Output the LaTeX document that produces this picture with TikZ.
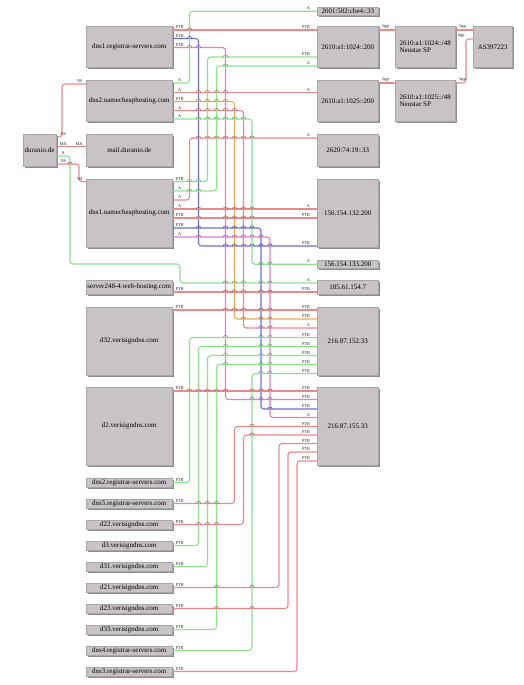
\documentclass[tikz,border=0pt]{standalone}
\usepackage{fontspec}
\setmainfont{Liberation Serif}
\usetikzlibrary{shadows}

\definecolor{boxfill}{HTML}{C7C3C7}
\definecolor{boxline}{HTML}{A9A5A9}
\definecolor{boxshade}{HTML}{8E8B8E}
\definecolor{edgered}{HTML}{E8898B}
\definecolor{edgegreen}{HTML}{8FE08F}
\definecolor{edgeblue}{HTML}{6F6FD0}
\definecolor{edgepink}{HTML}{E07DD3}
\definecolor{edgeorange}{HTML}{E8AC50}

% little bumps where a horizontal run jumps a vertical one
\newcommand{\hops}[3]{%
  \foreach \hx in {#3}
    \draw[#1!75!black, line width=0.6pt]
      (\hx-2.2,#2) .. controls (\hx-2.2,#2-2.8) and (\hx+2.2,#2-2.8) .. (\hx+2.2,#2);}

\begin{document}
\begin{tikzpicture}[
  x=1pt, y=-1pt,
  hostbox/.style={rectangle, draw=boxline, line width=0.5pt, fill=boxfill,
                  inner sep=0pt, font=\fontsize{7}{7.4}\selectfont,
                  drop shadow={shadow xshift=1.5pt, shadow yshift=-1.5pt,
                               fill=boxshade, opacity=1}},
  leftbox/.style={hostbox, minimum width=86.5pt},
  smallbox/.style={hostbox, minimum width=86.5pt, minimum height=9pt},
  ipbox/.style={hostbox, minimum width=61.5pt},
  netbox/.style={hostbox, minimum width=60.5pt, minimum height=41.5pt, align=left},
  edge/.style={line width=1.1pt, rounded corners=3pt},
  redge/.style={edge, draw=edgered},
  gedge/.style={edge, draw=edgegreen},
  bedge/.style={edge, draw=edgeblue},
  pedge/.style={edge, draw=edgepink},
  oedge/.style={edge, draw=edgeorange},
  lbl/.style={font=\fontsize{4.3}{4.3}\selectfont, inner sep=0.2pt, text=black!85},
  src/.style={lbl, anchor=south, xshift=7pt, yshift=0.6pt},
  dst/.style={lbl, anchor=south east, xshift=-6pt, yshift=0.6pt},
  dstnear/.style={lbl, anchor=south east, xshift=-2.5pt, yshift=0.6pt},
]
\fill[white] (0,0) rectangle (523,685);
\useasboundingbox (0,0) rectangle (523,685);

%% ---- zone ----
\node[hostbox, minimum width=33pt, minimum height=32.5pt] (duranio) at (39.5,150.25) {duranio.de};

%% ---- left column ----
\node[leftbox, minimum height=41.5pt] (regone)     at (129.25,46.75)  {dns1.registrar-servers.com};
\node[leftbox, minimum height=41.5pt] (nctwo)      at (129.25,100.75) {dns2.namecheaphosting.com};
\node[leftbox, minimum height=32.5pt] (mailhost)   at (129.25,150.25) {mail.duranio.de};
\node[leftbox, minimum height=68.5pt] (ncone)      at (129.25,213.25) {dns1.namecheaphosting.com};
\node[leftbox, minimum height=14.5pt] (srvweb)     at (129.25,287.25) {server248-4.web-hosting.com};
\node[leftbox, minimum height=68.5pt] (dthirtytwo) at (129.25,341.25) {d32.verisigndns.com};
\node[leftbox, minimum height=78.5pt] (dtwo)       at (129.25,426.25) {d2.verisigndns.com};

\node[smallbox] (regtwo)       at (129.25,482.5) {dns2.registrar-servers.com};
\node[smallbox] (regfive)      at (129.25,503.5) {dns5.registrar-servers.com};
\node[smallbox] (dtwentytwo)   at (129.25,524.5) {d22.verisigndns.com};
\node[smallbox] (dthree)       at (129.25,545.5) {d3.verisigndns.com};
\node[smallbox] (dthirtyone)   at (129.25,566.5) {d31.verisigndns.com};
\node[smallbox] (dtwentyone)   at (129.25,587.5) {d21.verisigndns.com};
\node[smallbox] (dtwentythree) at (129.25,608.5) {d23.verisigndns.com};
\node[smallbox] (dthirtythree) at (129.25,629.5) {d33.verisigndns.com};
\node[smallbox] (regfour)      at (129.25,650.5) {dns4.registrar-servers.com};
\node[smallbox] (regthree)     at (129.25,671.5) {dns3.registrar-servers.com};

%% ---- addresses ----
\node[ipbox, minimum height=8.5pt]  (v6cbe)    at (347.75,11.25)  {2001:502:cbe4::33};
\node[ipbox, minimum height=41.5pt] (v6ten24)  at (347.75,46.75)  {2610:a1:1024::200};
\node[ipbox, minimum height=41.5pt] (v6ten25)  at (347.75,100.75) {2610:a1:1025::200};
\node[ipbox, minimum height=32.5pt] (v6lumen)  at (347.75,150.25) {2620:74:19::33};
\node[ipbox, minimum height=68.5pt] (vfour132) at (347.75,213.25) {156.154.132.200};
\node[ipbox, minimum height=8.5pt]  (vfour133) at (347.75,264.25) {156.154.133.200};
\node[ipbox, minimum height=14.5pt] (vfour185) at (347.75,287.25) {185.61.154.7};
\node[ipbox, minimum height=68.5pt] (vfour152) at (347.75,341.25) {216.87.152.33};
\node[ipbox, minimum height=78.5pt] (vfour155) at (347.75,426.25) {216.87.155.33};

%% ---- prefixes and AS ----
\node[netbox] (netten24) at (425.25,46.75)  {2610:a1:1024::/48\\Neustar SP};
\node[netbox] (netten25) at (425.25,100.75) {2610:a1:1025::/48\\Neustar SP};
\node[hostbox, minimum width=39.5pt, minimum height=41.5pt] (asnum) at (492.75,46.75) {AS397223};

%% ---- zone records ----
\draw[redge] (duranio.east|-0,137) node[src]{NS} -| (62,84) -- (nctwo.west|-0,84) node[dstnear]{NS};
\draw[redge] (duranio.east|-0,146.5) node[src]{MX} -- (mailhost.west|-0,146.5) node[dstnear]{MX};
\draw[gedge] (duranio.east|-0,156) node[src]{A} -| (70,264) -| (180,283) -- (vfour185.west|-0,283) node[dst]{A};
\draw[redge] (duranio.east|-0,164) node[src]{NS} -| (79,181.5) -- (ncone.west|-0,181.5) node[dstnear]{NS};

%% ---- dns1.registrar-servers.com ----
\draw[redge] (regone.east|-0,30) node[src]{PTR} -- (v6ten24.west|-0,30) node[dst]{PTR};
\draw[bedge] (regone.east|-0,38.5) node[src]{PTR} -| (198.5,246) -- (vfour132.west|-0,246) node[dst]{PTR};
\draw[pedge] (regone.east|-0,47.5) node[src]{PTR} -| (225.5,399.5) -- (vfour155.west|-0,399.5) node[dst]{PTR};

%% ---- dns2.namecheaphosting.com ----
\draw[gedge] (nctwo.east|-0,83) node[src]{A} -| (189.5,11.25) -- (v6cbe.west) node[dst]{A};
\draw[redge] (nctwo.east|-0,92.5) node[src]{A} -- (v6ten25.west|-0,92.5) node[dst]{A};
\draw[oedge] (nctwo.east|-0,101.5) node[src]{PTR} -| (234.5,319) -- (vfour152.west|-0,319) node[dst]{PTR};
\draw[redge] (nctwo.east|-0,110.5) node[src]{A} -| (243.5,328) -- (vfour152.west|-0,328) node[dst]{A};
\draw[gedge] (nctwo.east|-0,119) node[src]{A} -| (252,264.25) -- (vfour133.west) node[dst]{A};

%% ---- dns1.namecheaphosting.com ----
\draw[gedge] (ncone.east|-0,181.5) node[src]{PTR} -| (207.5,57) -- (v6ten24.west|-0,57) node[dst]{PTR};
\draw[gedge] (ncone.east|-0,191) node[src]{A} -| (216.5,66) -- (v6ten24.west|-0,66) node[dst]{A};
\draw[redge] (ncone.east|-0,200) node[src]{A} -| (189.5,138) -- (v6lumen.west|-0,138) node[dst]{A};
\draw[redge] (ncone.east|-0,209) node[src]{A} -- (vfour132.west|-0,209) node[dst]{A};
\draw[redge] (ncone.east|-0,218) node[src]{PTR} -- (vfour132.west|-0,218) node[dst]{PTR};
\draw[bedge] (ncone.east|-0,228) node[src]{PTR} -| (261,409) -- (vfour155.west|-0,409) node[dst]{PTR};
\draw[pedge] (ncone.east|-0,237) node[src]{A} -| (270,417.5) -- (vfour155.west|-0,417.5) node[dst]{A};

%% ---- reverse names ----
\draw[redge] (srvweb.east|-0,292) node[src]{PTR} -- (vfour185.west|-0,292) node[dst]{PTR};
\draw[redge] (dthirtytwo.east|-0,310) node[src]{PTR} -- (vfour152.west|-0,310) node[dst]{PTR};
\draw[gedge] (regtwo.east) node[src]{PTR} -| (189.5,337.5) -- (vfour152.west|-0,337.5) node[dst]{PTR};
\draw[gedge] (dthree.east) node[src]{PTR} -| (198.5,346.5) -- (vfour152.west|-0,346.5) node[dst]{PTR};
\draw[gedge] (dthirtyone.east) node[src]{PTR} -| (207.5,355.5) -- (vfour152.west|-0,355.5) node[dst]{PTR};
\draw[gedge] (dthirtythree.east) node[src]{PTR} -| (216.5,364.5) -- (vfour152.west|-0,364.5) node[dst]{PTR};
\draw[gedge] (regfour.east) node[src]{PTR} -| (252,373.5) -- (vfour152.west|-0,373.5) node[dst]{PTR};
\draw[redge] (dtwo.east|-0,391) node[src]{PTR} -- (vfour155.west|-0,391) node[dst]{PTR};
\draw[redge] (regfive.east) node[src]{PTR} -| (234.5,426.5) -- (vfour155.west|-0,426.5) node[dst]{PTR};
\draw[redge] (dtwentytwo.east) node[src]{PTR} -| (243.5,435) -- (vfour155.west|-0,435) node[dst]{PTR};
\draw[redge] (dtwentyone.east) node[src]{PTR} -| (279,443.5) -- (vfour155.west|-0,443.5) node[dst]{PTR};
\draw[redge] (dtwentythree.east) node[src]{PTR} -| (288,452) -- (vfour155.west|-0,452) node[dst]{PTR};
\draw[redge] (regthree.east) node[src]{PTR} -| (297,461) -- (vfour155.west|-0,461) node[dst]{PTR};

%% ---- bgp ----
\draw[redge] (v6ten24.east|-0,30) node[src]{bgp} -- (netten24.west|-0,30);
\draw[redge] (v6ten25.east|-0,83) node[src]{bgp} -- (netten25.west|-0,83);
\draw[redge] (netten24.east|-0,30) node[src]{bgp} -- (asnum.west|-0,30);
\draw[redge] (netten25.east|-0,83) node[src]{bgp} -| (466,39) -- (asnum.west|-0,39)
  node[lbl, anchor=south east, xshift=-7.5pt, yshift=0.6pt]{bgp};

%% ---- jumps ----
\hops{edgered}{30}{189.5}
\hops{edgeblue}{38.5}{189.5}
\hops{edgepink}{47.5}{189.5,198.5}
\hops{edgegreen}{57}{225.5}
\hops{edgegreen}{66}{225.5}
\hops{edgered}{92.5}{198.5,207.5,216.5,225.5}
\hops{edgeorange}{101.5}{198.5,207.5,216.5,225.5}
\hops{edgered}{110.5}{198.5,207.5,216.5,225.5,234.5}
\hops{edgegreen}{119}{198.5,207.5,216.5,225.5,234.5,243.5}
\hops{edgered}{138}{198.5,207.5,216.5,225.5,234.5,243.5,252}
\hops{edgered}{164}{70}
\hops{edgegreen}{181.5}{189.5,198.5}
\hops{edgegreen}{191}{189.5,198.5}
\hops{edgered}{209}{198.5,225.5,234.5,243.5,252}
\hops{edgered}{218}{198.5,225.5,234.5,243.5,252}
\hops{edgeblue}{228}{198.5,225.5,234.5,243.5,252}
\hops{edgepink}{237}{198.5,225.5,234.5,243.5,252,261}
\hops{edgeblue}{246}{225.5,234.5,243.5,252,261,270}
\hops{edgegreen}{264.25}{261,270}
\hops{edgegreen}{283}{225.5,234.5,243.5,261,270}
\hops{edgered}{292}{225.5,234.5,243.5,261,270}
\hops{edgered}{310}{225.5,234.5,243.5,261,270}
\hops{edgeorange}{319}{243.5,261,270}
\hops{edgered}{328}{261,270}
\hops{edgegreen}{337.5}{225.5,261,270}
\hops{edgegreen}{346.5}{225.5,261,270}
\hops{edgegreen}{355.5}{225.5,261,270}
\hops{edgegreen}{364.5}{225.5,261,270}
\hops{edgegreen}{373.5}{261,270}
\hops{edgered}{391}{189.5,198.5,207.5,216.5,225.5,252,261,270}
\hops{edgepink}{399.5}{252,261,270}
\hops{edgeblue}{409}{270}
\hops{edgered}{426.5}{252}
\hops{edgered}{435}{252}
\hops{edgered}{503.5}{198.5,207.5,216.5}
\hops{edgered}{524.5}{198.5,207.5,216.5}
\hops{edgered}{587.5}{216.5,252}
\hops{edgered}{608.5}{216.5,252}

\end{tikzpicture}
\end{document}
